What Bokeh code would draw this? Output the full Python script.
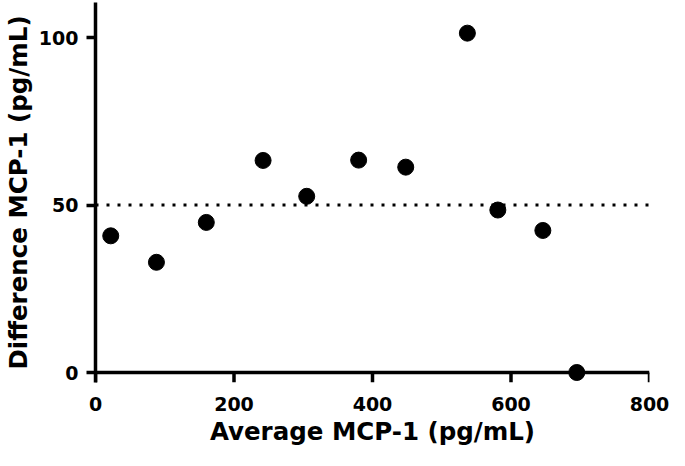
from bokeh.plotting import figure
from bokeh.models import Range1d, FixedTicker, Span
from bokeh.embed import file_html
from bokeh.resources import INLINE

# Data
average_mcp1 = [22, 88, 160, 242, 305, 380, 448, 537, 581, 646, 695]
difference_mcp1 = [40.8, 32.9, 44.8, 63.3, 52.6, 63.4, 61.3, 101.3, 48.5, 42.4, 0]
x_ticks = [0, 200, 400, 600, 800]
y_ticks = [0, 50, 100]
reference_level = 50
x_title = "Average MCP-1 (pg/mL)"
y_title = "Difference MCP-1 (pg/mL)"

FONT = "DejaVu Sans"
Y_START = -2.985   # room below zero so the point on the axis is not clipped
Y_END = 110.45
AXIS_W = 3.5

p = figure(width=669, height=450, output_backend="svg", toolbar_location=None,
           x_range=Range1d(0, 800), y_range=Range1d(Y_START, Y_END),
           min_border_left=94, min_border_right=20, min_border_top=2, min_border_bottom=68)
p.grid.visible = False
p.outline_line_color = None
p.background_fill_color = "white"
p.border_fill_color = "white"

# Reference (dotted) line
p.add_layout(Span(location=reference_level, dimension="width", line_color="black",
                  line_width=3, line_dash="3 8"))

# x axis line at y = 0 and its downward ticks
p.add_layout(Span(location=0, dimension="width", line_color="black", line_width=AXIS_W))
p.segment(x0=x_ticks, y0=[0] * len(x_ticks), x1=x_ticks, y1=[Y_START] * len(x_ticks),
          line_color="black", line_width=AXIS_W)

p.scatter(average_mcp1, difference_mcp1, size=16, color="black")

# x axis: only labels (line and ticks drawn above at y = 0)
xa = p.xaxis[0]
xa.ticker = FixedTicker(ticks=x_ticks)
xa.axis_line_color = None
xa.major_tick_line_color = None
xa.minor_tick_line_color = None
xa.major_tick_out = 0
xa.major_tick_in = 0
xa.major_label_standoff = 14
xa.major_label_text_font = FONT
xa.major_label_text_font_style = "bold"
xa.major_label_text_font_size = "19px"
xa.major_label_text_color = "black"
xa.axis_label = x_title
xa.axis_label_standoff = 3
xa.axis_label_text_font = FONT
xa.axis_label_text_font_style = "bold"
xa.axis_label_text_font_size = "24.5px"
xa.axis_label_text_color = "black"

ya = p.yaxis[0]
ya.ticker = FixedTicker(ticks=y_ticks)
ya.axis_line_width = AXIS_W
ya.major_tick_line_width = AXIS_W
ya.major_tick_out = 9
ya.major_tick_in = 0
ya.minor_tick_line_color = None
ya.major_label_standoff = 8
ya.major_label_text_font = FONT
ya.major_label_text_font_style = "bold"
ya.major_label_text_font_size = "19px"
ya.major_label_text_color = "black"
ya.axis_label = y_title
ya.axis_label_standoff = 3
ya.axis_label_text_font = FONT
ya.axis_label_text_font_style = "bold"
ya.axis_label_text_font_size = "24.5px"
ya.axis_label_text_color = "black"

open("out.html", "w").write(file_html(p, INLINE))
